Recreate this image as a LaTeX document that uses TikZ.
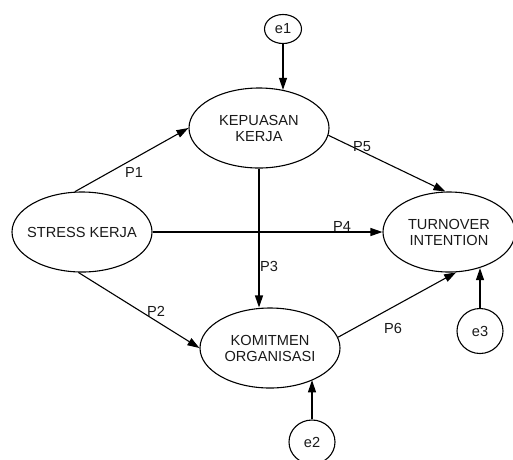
\documentclass[tikz,border=0pt]{standalone}
\usepackage{fontspec}
\setmainfont{Liberation Sans}
\usetikzlibrary{shapes.geometric,arrows.meta}
\begin{document}
\begin{tikzpicture}[x=1pt,y=-1pt,
  every node/.style={font=\fontsize{14.6}{16}\selectfont, text=black!90},
  latent/.style={ellipse, draw, line width=1.1pt, inner sep=-20pt, minimum width=140pt, minimum height=80pt, align=center},
  err/.style={ellipse, draw, line width=1.1pt, inner sep=-6pt},
  link/.style={line width=1.1pt, -{Triangle[length=12pt,width=8pt]}},
  plab/.style={inner sep=0pt}
]
\path[use as bounding box] (0,0) rectangle (513,459);
\node[latent] (kep) at (259,128) {KEPUASAN\\KERJA};
\node[latent] (stress) at (82,232) {STRESS KERJA};
\node[latent, minimum width=132pt] (turn) at (449,232) {TURNOVER\\INTENTION};
\node[latent] (kom) at (270,348) {KOMITMEN\\ORGANISASI};
\node[err, minimum width=37pt, minimum height=29pt] (e1) at (283,29) {e1};
\node[err, minimum width=46pt, minimum height=44pt] (e2) at (312,442) {e2};
\node[err, minimum width=46pt, minimum height=45pt] (e3) at (480,331) {e3};

\draw[link] (e1.south) -- (e1.south |- kep.58);
\draw[link] (stress.100) -- (kep.west);
\draw[link] (kep.-6) -- (turn.95);
\draw[link] (stress.east) -- (turn.west);
\draw[link] (kep.south) -- (kep.south |- kom.north);
\draw[link] (stress.-95) -- (kom.west);
\draw[link] (kom.9) -- (turn.-80);
\draw[link] (e3.north) -- (e3.north |- turn.-50);
\draw[link] (e2.north) -- (e2.north |- kom.-37);

\node[plab] (p1) at (134,172) {P1};
\node[plab] (p5) at (362,147) {P5};
\node[plab] (p4) at (342,226) {P4};
\node[plab] (p3) at (269,266) {P3};
\node[plab] (p2) at (156,311) {P2};
\node[plab] (p6) at (393,328) {P6};
\end{tikzpicture}
\end{document}
